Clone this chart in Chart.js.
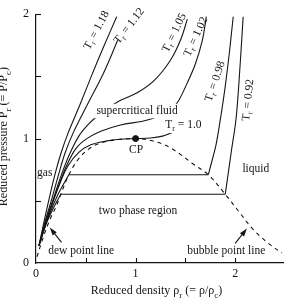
<!DOCTYPE html>
<html><head><meta charset="utf-8">
<script src="https://cdn.jsdelivr.net/npm/chart.js@4.4.1/dist/chart.umd.min.js"></script>
<style>html,body{margin:0;padding:0;background:#fff;}</style>
</head><body>
<canvas id="c" width="288" height="298"></canvas>
<script>
// ---- data (reduced density, reduced pressure) ----
const tickStep = 0.5;
const xLabelValues = [0, 1, 2];
const yLabelValues = [0, 1, 2];

const dome = [[0.01,0.05],[0.07,0.20],[0.14,0.35],[0.20,0.45],[0.25,0.555],[0.33,0.71],[0.42,0.83],[0.52,0.91],[0.63,0.96],[0.80,0.99],[1.0,1.0],[1.15,0.985],[1.29,0.95],[1.42,0.89],[1.57,0.80],[1.73,0.71],[1.90,0.553],[2.04,0.41],[2.18,0.27],[2.33,0.16],[2.47,0.08]];
const tr118 = [[0.03,0.14],[0.08,0.33],[0.13,0.51],[0.19,0.71],[0.25,0.88],[0.32,1.04],[0.44,1.27],[0.56,1.51],[0.68,1.74],[0.81,1.98]];
const tr112 = [[0.03,0.14],[0.09,0.33],[0.16,0.52],[0.23,0.72],[0.29,0.88],[0.37,1.04],[0.52,1.28],[0.68,1.53],[0.82,1.79]];
const tr105 = [[0.03,0.14],[0.10,0.34],[0.18,0.53],[0.26,0.72],[0.34,0.88],[0.43,1.02],[0.52,1.11],[0.60,1.17],[0.83,1.30],[1.02,1.37],[1.19,1.47],[1.35,1.63],[1.45,1.79],[1.52,1.96]];
const tr102 = [[0.03,0.14],[0.11,0.35],[0.20,0.56],[0.30,0.77],[0.40,0.92],[0.51,1.00],[0.65,1.06],[0.85,1.11],[1.07,1.14],[1.20,1.17],[1.32,1.21],[1.42,1.29],[1.52,1.45],[1.60,1.60],[1.67,1.79],[1.71,1.98]];
const tr100 = [[0.03,0.14],[0.12,0.38],[0.22,0.60],[0.32,0.78],[0.43,0.89],[0.55,0.95],[0.70,0.98],[0.85,0.995],[1.0,1.0],[1.15,1.005],[1.27,1.02],[1.37,1.05]];
const tr098Gas = [[0.03,0.14],[0.12,0.36],[0.22,0.55],[0.33,0.71]];
const tr098Liquid = [[1.73,0.71],[1.77,0.83],[1.81,0.96],[1.86,1.20],[1.90,1.42],[1.94,1.68],[1.98,1.98]];
const tr092Gas = [[0.03,0.14],[0.10,0.31],[0.18,0.45],[0.25,0.553]];
const tr092Liquid = [[1.90,0.553],[1.93,0.72],[1.96,0.89],[2.01,1.17],[2.05,1.60],[2.08,1.98]];
const criticalPoint = [[1.0, 1.0]];

// ---- annotations ----
const T = v => [{t:'T'},{t:'r',sub:true},{t:' = ' + v}];
const annotations = [
  {parts:T('1.18'), x:0.61, y:1.87, rot:-62},
  {parts:T('1.12'), x:0.936, y:1.905, rot:-52},
  {parts:T('1.05'), x:1.39, y:1.85, rot:-64},
  {parts:T('1.02'), x:1.606, y:1.818, rot:-65},
  {parts:T('0.98'), x:1.80, y:1.46, rot:-71},
  {parts:T('0.92'), x:2.13, y:1.31, rot:-84},
  {parts:T('1.0'), x:1.48, y:1.107, rot:0, bg:true},
  {parts:[{t:'supercritical fluid'}], x:1.015, y:1.225, rot:0, bg:true},
  {parts:[{t:'CP'}], x:1.005, y:0.91, rot:0},
  {parts:[{t:'gas'}], x:0.088, y:0.727, rot:0},
  {parts:[{t:'liquid'}], x:2.207, y:0.759, rot:0},
  {parts:[{t:'two phase region'}], x:1.025, y:0.419, rot:0},
  {parts:[{t:'dew point line'}], x:0.453, y:0.095, rot:0},
  {parts:[{t:'bubble point line'}], x:1.911, y:0.095, rot:0}
];
const arrows = [
  {from:[0.256,0.166], to:[0.138,0.285]},
  {from:[2.0,0.158], to:[2.118,0.277]}
];

const INK = '#151515';
const FONT = '"Liberation Serif", "Times New Roman", serif';

function drawRich(ctx, parts, x, y, rot, size, opts) {
  opts = opts || {};
  const main = size + 'px ' + FONT, sub = Math.round(size * 0.72) + 'px ' + FONT;
  ctx.save();
  ctx.translate(x, y);
  ctx.rotate(rot * Math.PI / 180);
  let w = 0;
  const ms = parts.map(p => { ctx.font = p.sub ? sub : main; const m = ctx.measureText(p.t).width; w += m; return m; });
  ctx.textBaseline = opts.baseline || 'middle';
  if (opts.bg) { ctx.fillStyle = '#fff'; ctx.fillRect(-w/2 - 2, -size/2 - 1, w + 4, size + 3); }
  ctx.fillStyle = INK;
  ctx.textAlign = 'left';
  let cx = -w / 2;
  parts.forEach((p, i) => { ctx.font = p.sub ? sub : main; ctx.fillText(p.t, cx, p.sub ? size * 0.3 : 0); cx += ms[i]; });
  ctx.restore();
}

const overlay = {
  id: 'overlay',
  afterDatasetsDraw(chart) {
    const ctx = chart.ctx, xs = chart.scales.x, ys = chart.scales.y, a = chart.chartArea;
    // inward tick marks
    ctx.save();
    ctx.strokeStyle = INK; ctx.lineWidth = 1.1;
    for (let v = tickStep; v <= xs.max + 1e-9; v += tickStep) {
      const px = Math.round(xs.getPixelForValue(v)) + 0.5;
      ctx.beginPath(); ctx.moveTo(px, a.bottom); ctx.lineTo(px, a.bottom - 5); ctx.stroke();
    }
    for (let v = tickStep; v <= ys.max + 1e-9; v += tickStep) {
      const py = Math.round(ys.getPixelForValue(v)) + 0.5;
      ctx.beginPath(); ctx.moveTo(a.left, py); ctx.lineTo(a.left + 5, py); ctx.stroke();
    }
    // arrows
    ctx.fillStyle = INK;
    arrows.forEach(ar => {
      const x1 = xs.getPixelForValue(ar.from[0]), y1 = ys.getPixelForValue(ar.from[1]);
      const x2 = xs.getPixelForValue(ar.to[0]), y2 = ys.getPixelForValue(ar.to[1]);
      const ang = Math.atan2(y2 - y1, x2 - x1);
      ctx.lineWidth = 1.1;
      ctx.beginPath(); ctx.moveTo(x1, y1); ctx.lineTo(x2 - 5 * Math.cos(ang), y2 - 5 * Math.sin(ang)); ctx.stroke();
      ctx.beginPath();
      ctx.moveTo(x2, y2);
      ctx.lineTo(x2 - 8 * Math.cos(ang) + 2.6 * Math.sin(ang), y2 - 8 * Math.sin(ang) - 2.6 * Math.cos(ang));
      ctx.lineTo(x2 - 8 * Math.cos(ang) - 2.6 * Math.sin(ang), y2 - 8 * Math.sin(ang) + 2.6 * Math.cos(ang));
      ctx.closePath(); ctx.fill();
    });
    ctx.restore();
    // labels
    annotations.forEach(an => {
      drawRich(ctx, an.parts, xs.getPixelForValue(an.x), ys.getPixelForValue(an.y), an.rot, 11.5, {bg: an.bg});
    });
  },
  afterDraw(chart) {
    const ctx = chart.ctx, a = chart.chartArea;
    drawRich(ctx, [{t:'Reduced density ρ'},{t:'r',sub:true},{t:' (= ρ/ρ'},{t:'c',sub:true},{t:')'}],
      (a.left + a.right) / 2 - 3, chart.height - 4, 0, 12, {baseline:'alphabetic'});
    drawRich(ctx, [{t:'Reduced pressure P'},{t:'r',sub:true},{t:' (= P/P'},{t:'c',sub:true},{t:')'}],
      7, (a.top + a.bottom) / 2 - 2, -90, 12, {baseline:'alphabetic'});
  }
};

const pts = arr => arr.map(([x, y]) => ({x, y}));
const line = (arr, extra) => Object.assign({data: pts(arr), showLine: true, borderColor: INK, borderWidth: 1.1, pointRadius: 0, tension: 0.35, fill: false}, extra || {});
const tie = (gas, liq) => line([gas[gas.length - 1], liq[0]], {tension: 0});

const axisFont = {family: FONT, size: 12};
new Chart(document.getElementById('c'), {
  type: 'scatter',
  data: {datasets: [
    line(dome, {borderDash: [4, 4], borderWidth: 1.1}),
    line(tr118), line(tr112), line(tr105), line(tr102), line(tr100),
    line(tr098Gas), tie(tr098Gas, tr098Liquid), line(tr098Liquid),
    line(tr092Gas), tie(tr092Gas, tr092Liquid), line(tr092Liquid),
    {data: pts(criticalPoint), pointRadius: 3, pointBackgroundColor: INK, pointBorderColor: INK, showLine: false}
  ]},
  options: {
    responsive: false, animation: false, devicePixelRatio: 1,
    layout: {padding: {top: 10, right: 0, left: 0, bottom: 0}},
    plugins: {legend: {display: false}, tooltip: {enabled: false}},
    scales: {
      x: {type: 'linear', min: 0, max: 2.48,
        ticks: {stepSize: tickStep, includeBounds: false, autoSkip: false, maxRotation: 0, padding: 4, color: INK, font: axisFont,
          callback: v => xLabelValues.includes(v) ? String(v) : ''},
        grid: {display: false, drawTicks: false},
        border: {display: true, color: INK, width: 1.2},
        afterFit: s => { s.height = 35; }},
      y: {type: 'linear', min: 0, max: 2,
        ticks: {stepSize: tickStep, includeBounds: false, autoSkip: false, padding: 7, color: INK, font: axisFont,
          callback: v => yLabelValues.includes(v) ? String(v) : ''},
        grid: {display: false, drawTicks: false},
        border: {display: true, color: INK, width: 1.2},
        afterFit: s => { s.width = 36; }}
    }
  },
  plugins: [overlay]
});
</script>
</body></html>
